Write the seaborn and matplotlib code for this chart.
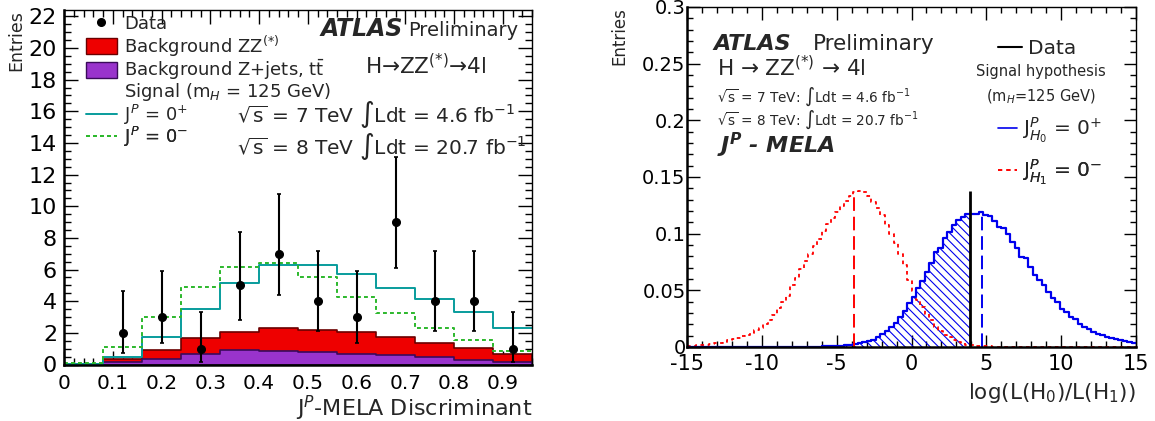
import numpy as np
import pandas as pd
import matplotlib
matplotlib.use("Agg")
import matplotlib.pyplot as plt
from matplotlib.lines import Line2D
from matplotlib.patches import Patch
from matplotlib.ticker import MultipleLocator, FuncFormatter
import seaborn as sns

# ---------------- Left panel: J^P-MELA discriminant ----------------
mela_edges = np.linspace(0.0, 0.96, 13)
bkg_zjets = [0.02, 0.16, 0.33, 0.66, 0.89, 0.83, 0.77, 0.68, 0.60, 0.45, 0.28, 0.16]
bkg_zz = [0.02, 0.17, 0.58, 1.00, 1.18, 1.45, 1.41, 1.37, 1.11, 0.93, 0.74, 0.50]
sig_0plus = [0.05, 0.49, 1.76, 3.51, 5.12, 6.26, 6.27, 5.75, 4.82, 4.17, 3.33, 2.30]
sig_0minus = [0.12, 1.13, 2.98, 4.91, 6.17, 6.44, 5.55, 4.28, 3.28, 2.32, 1.55, 0.87]
data_counts = [np.nan, 2, 3, 1, 5, 7, 4, 3, 9, 4, 4, 1]
data_low = [np.nan, 0.71, 1.37, 0.17, 2.84, 4.42, 2.09, 1.37, 6.08, 2.09, 2.09, 0.17]
data_high = [np.nan, 4.64, 5.92, 3.30, 8.38, 10.77, 7.16, 5.92, 13.12, 7.16, 7.16, 3.30]

# ---------------- Right panel: log-likelihood ratio ----------------
llr_edges = np.linspace(-15.0, 15.0, 101)
h0_0plus = [
    0.0, 0.0, 0.0, 0.0, 0.0, 0.0, 0.0, 0.0, 0.0, 0.0,
    0.0, 0.0, 0.0, 0.0, 0.0, 0.0, 0.0, 0.0, 0.0, 0.0,
    0.0, 0.0, 0.0, 0.0, 0.0, 0.0, 0.0, 0.0, 0.0003, 0.0004,
    0.0005, 0.0006, 0.0008, 0.0010, 0.0013, 0.0016, 0.0020, 0.0028, 0.0037, 0.0046,
    0.0055, 0.0066, 0.0084, 0.0111, 0.0143, 0.0177, 0.0215, 0.0266, 0.0318, 0.0390,
    0.0443, 0.0517, 0.0581, 0.0664, 0.0738, 0.0841, 0.0876, 0.0959, 0.1018, 0.1077,
    0.1121, 0.1150, 0.1174, 0.1174, 0.1174, 0.1189, 0.1165, 0.1159, 0.1112, 0.1056,
    0.1047, 0.0994, 0.0929, 0.0870, 0.0797, 0.0782, 0.0708, 0.0634, 0.0590, 0.0546,
    0.0487, 0.0428, 0.0398, 0.0339, 0.0310, 0.0266, 0.0245, 0.0207, 0.0177, 0.0157,
    0.0133, 0.0118, 0.0104, 0.0089, 0.0080, 0.0068, 0.0059, 0.0053, 0.0044, 0.0038,
]
h1_0minus = [
    0.0010, 0.0012, 0.0015, 0.0018, 0.0022, 0.0027, 0.0032, 0.0038, 0.0045, 0.0060,
    0.0072, 0.0082, 0.0094, 0.0108, 0.0125, 0.0148, 0.0172, 0.0200, 0.0238, 0.0285,
    0.0340, 0.0400, 0.0450, 0.0550, 0.0610, 0.0690, 0.0755, 0.0820, 0.0890, 0.0955,
    0.1020, 0.1085, 0.1140, 0.1190, 0.1245, 0.1290, 0.1335, 0.1365, 0.1380, 0.1370,
    0.1335, 0.1280, 0.1225, 0.1165, 0.1080, 0.1000, 0.0915, 0.0820, 0.0720, 0.0590,
    0.0490, 0.0415, 0.0355, 0.0295, 0.0240, 0.0180, 0.0140, 0.0108, 0.0085, 0.0065,
    0.0048, 0.0032, 0.0022, 0.0016, 0.0012, 0.0009, 0.0007, 0.0005, 0.0004, 0.0003,
    0.0003, 0.0002, 0.0002, 0.0002, 0.0001, 0.0001, 0.0001, 0.0001, 0.0001, 0.0001,
    0.0001, 0.0001, 0.0001, 0.0001, 0.0, 0.0, 0.0, 0.0, 0.0, 0.0,
    0.0, 0.0, 0.0, 0.0, 0.0, 0.0, 0.0, 0.0, 0.0, 0.0,
]
llr_observed = 3.9
llr_observed_height = 0.138
median_h0 = 4.7
median_h1 = -3.85

# ---------------- Style ----------------
sns.set_theme(style="ticks")
plt.rcParams["font.family"] = ["DejaVu Sans"]
plt.rcParams["mathtext.fontset"] = "dejavusans"
plt.rcParams["hatch.linewidth"] = 0.8

fig = plt.figure(figsize=(11.55, 4.21), dpi=100)
ax1 = fig.add_axes([64 / 1155, 1 - 364.5 / 421, (532 - 64) / 1155, (364.5 - 10) / 421])
ax2 = fig.add_axes([687 / 1155, 1 - 347 / 421, (1136 - 687) / 1155, (347 - 7) / 421])

fmt = FuncFormatter(lambda v, p: f"{v:g}")

def style_axes(ax, xmaj, xmin, ymaj, ymin, xfs, yfs, xpad, ypad, majlen, minlen):
    ax.xaxis.set_major_locator(MultipleLocator(xmaj))
    ax.xaxis.set_minor_locator(MultipleLocator(xmin))
    ax.yaxis.set_major_locator(MultipleLocator(ymaj))
    ax.yaxis.set_minor_locator(MultipleLocator(ymin))
    ax.xaxis.set_major_formatter(fmt)
    ax.yaxis.set_major_formatter(fmt)
    ax.tick_params(which="both", direction="in", top=True, right=True,
                   colors="black", width=1.0)
    ax.tick_params(which="major", length=majlen)
    ax.tick_params(which="minor", length=minlen)
    ax.tick_params(axis="x", labelsize=xfs, pad=xpad)
    ax.tick_params(axis="y", labelsize=yfs, pad=ypad)
    for s in ["left", "bottom"]:
        ax.spines[s].set_linewidth(1.8)
    for s in ["top", "right"]:
        ax.spines[s].set_linewidth(1.0)
    for s in ax.spines.values():
        s.set_color("black")
        s.set_visible(True)


def legend_entry(ax, handle, label, x, y, fontsize, hlen, hpad, hheight=0.7):
    leg = ax.legend([handle], [label], loc="center left", bbox_to_anchor=(x, y),
                    frameon=False, fontsize=fontsize, handlelength=hlen,
                    handletextpad=hpad, handleheight=hheight, borderpad=0,
                    borderaxespad=0)
    ax.add_artist(leg)
    return leg

# ---------------- Left panel drawing ----------------
mela_centers = 0.5 * (mela_edges[:-1] + mela_edges[1:])
mela_bins = mela_edges.tolist()
total_bkg = np.array(bkg_zz) + np.array(bkg_zjets)
left_df = pd.DataFrame({
    "x": mela_centers,
    "total": total_bkg,
    "zjets": bkg_zjets,
    "s0p": sig_0plus,
    "s0m": sig_0minus,
})

red = "#ee0000"
purple = "#9933cc"
teal = "#089c9c"
green = "#2cb82c"

sns.histplot(data=left_df, x="x", weights="total", bins=mela_bins, element="step",
             fill=True, color=red, facecolor=red, edgecolor="#6b0000", linewidth=1.2,
             alpha=1, ax=ax1)
sns.histplot(data=left_df, x="x", weights="zjets", bins=mela_bins, element="step",
             fill=True, color=purple, facecolor=purple, edgecolor="#3a0a5a", linewidth=1.2,
             alpha=1, ax=ax1)
sns.histplot(data=left_df, x="x", weights="s0p", bins=mela_bins, element="step",
             fill=False, color=teal, linewidth=1.4, ax=ax1)
sns.histplot(data=left_df, x="x", weights="s0m", bins=mela_bins, element="step",
             fill=False, color=green, linewidth=1.4, linestyle=(0, (2, 1.6)), ax=ax1)

dc = np.array(data_counts, dtype=float)
dlo = np.array(data_low, dtype=float)
dhi = np.array(data_high, dtype=float)
ax1.errorbar(mela_centers, dc, yerr=[dc - dlo, dhi - dc], fmt="o", color="black",
             ms=5.5, elinewidth=1.5, capsize=1.5, capthick=1.2, zorder=5)

ax1.set_xlim(0, 0.96)
ax1.set_ylim(0, 22.4)
style_axes(ax1, 0.1, 0.02, 2, 0.5, 14.5, 16, 7, 5, 10, 5)
ax1.set_xlabel(r"J$^{P}$-MELA Discriminant", loc="right", fontsize=16)
ax1.xaxis.set_label_coords(1.0, -0.083)
ax1.set_ylabel("Entries", loc="top", fontsize=12.5)
ax1.yaxis.set_label_coords(-0.083, 1.0)

left_entries = [
    (Line2D([], [], marker="o", ls="none", color="black", ms=5.5), "Data", 0.9605),
    (Patch(facecolor=red, edgecolor="#6b0000", linewidth=1.0),
     r"Background ZZ$^{(*)}$", 0.8984),
    (Patch(facecolor=purple, edgecolor="#3a0a5a", linewidth=1.0),
     r"Background Z+jets, t$\bar{\mathrm{t}}$", 0.8308),
    (Line2D([], [], color="none"), r"Signal (m$_{H}$ = 125 GeV)", 0.7685),
    (Line2D([], [], color=teal, lw=1.4), r"J$^{P}$ = 0$^{+}$", 0.7038),
    (Line2D([], [], color=green, lw=1.4, ls=(0, (2, 1.6))), r"J$^{P}$ = 0$^{-}$", 0.6417),
]
for h, lab, yy in left_entries:
    legend_entry(ax1, h, lab, 0.047, yy, 13, 1.7, 0.4, 0.95)

ax1.text(0.7244, 0.9267, "ATLAS", transform=ax1.transAxes, ha="right", va="baseline",
         fontsize=17, fontweight="bold", fontstyle="italic")
ax1.text(0.970, 0.9267, "Preliminary", transform=ax1.transAxes, ha="right", va="baseline",
         fontsize=14)
ax1.text(0.7724, 0.8195, r"H→ZZ$^{(*)}$→4l", transform=ax1.transAxes, ha="center",
         va="baseline", fontsize=15.5)
ax1.text(0.3697, 0.683, r"$\sqrt{\mathrm{s}}$ = 7 TeV $\int$Ldt = 4.6 fb$^{\mathregular{-1}}$",
         transform=ax1.transAxes, ha="left", va="baseline", fontsize=14.5)
ax1.text(0.3697, 0.5935, r"$\sqrt{\mathrm{s}}$ = 8 TeV $\int$Ldt = 20.7 fb$^{\mathregular{-1}}$",
         transform=ax1.transAxes, ha="left", va="baseline", fontsize=14.5)

# ---------------- Right panel drawing ----------------
llr_centers = 0.5 * (llr_edges[:-1] + llr_edges[1:])
llr_bins = llr_edges.tolist()
right_df = pd.DataFrame({"x": llr_centers, "h0": h0_0plus, "h1": h1_0minus})
below_obs = right_df[right_df["x"] < llr_observed]

blue = "#0000ee"
rred = "#ff0000"

sns.histplot(data=below_obs, x="x", weights="h0", bins=llr_bins, element="step",
             fill=True, color=blue, facecolor="none", edgecolor=blue, hatch="\\\\\\\\",
             linewidth=0, alpha=1, ax=ax2)
sns.histplot(data=right_df, x="x", weights="h1", bins=llr_bins, element="step",
             fill=False, color=rred, linewidth=1.3, linestyle=(0, (2, 2)), ax=ax2)
sns.histplot(data=right_df, x="x", weights="h0", bins=llr_bins, element="step",
             fill=False, color=blue, linewidth=1.6, ax=ax2)

k_h0 = np.searchsorted(llr_edges, median_h0) - 1
k_h1 = np.searchsorted(llr_edges, median_h1) - 1
ax2.vlines(median_h0, 0, h0_0plus[k_h0], colors=blue, linestyles=(0, (7, 3)), lw=1.4)
ax2.vlines(median_h1, 0, h1_0minus[k_h1], colors=rred, linestyles=(0, (7, 3)), lw=1.4)
ax2.vlines(llr_observed, 0, llr_observed_height, colors="black", lw=2.0, zorder=6)

ax2.set_xlim(-15, 15)
ax2.set_ylim(0, 0.3)
style_axes(ax2, 5, 1, 0.05, 0.01, 15, 14, 5, 1, 9, 4.5)
ax2.set_xlabel(r"log(L(H$_{0}$)/L(H$_{1}$))", loc="right", fontsize=15.5)
ax2.xaxis.set_label_coords(1.0, -0.1)
ax2.set_ylabel("Entries", loc="top", fontsize=12)
ax2.yaxis.set_label_coords(-0.131, 1.0)

ax2.text(0.058, 0.8735, "ATLAS", transform=ax2.transAxes, ha="left", va="baseline",
         fontsize=16, fontweight="bold", fontstyle="italic")
ax2.text(0.2806, 0.8735, "Preliminary", transform=ax2.transAxes, ha="left", va="baseline",
         fontsize=15.5)
ax2.text(0.067, 0.797, r"H → ZZ$^{(*)}$ → 4l", transform=ax2.transAxes, ha="left",
         va="baseline", fontsize=15.5)
ax2.text(0.067, 0.7215, r"$\sqrt{\mathrm{s}}$ = 7 TeV: $\int$Ldt = 4.6 fb$^{\mathregular{-1}}$",
         transform=ax2.transAxes, ha="left", va="baseline", fontsize=9.8)
ax2.text(0.067, 0.653, r"$\sqrt{\mathrm{s}}$ = 8 TeV: $\int$Ldt = 20.7 fb$^{\mathregular{-1}}$",
         transform=ax2.transAxes, ha="left", va="baseline", fontsize=9.8)
ax2.text(0.067, 0.5697, r"$\mathbfit{J}^{\mathbfit{P}}$ - MELA", transform=ax2.transAxes,
         ha="left", va="baseline", fontsize=16, fontweight="bold", fontstyle="italic")

ax2.text(0.788, 0.797, "Signal hypothesis", transform=ax2.transAxes, ha="center",
         va="baseline", fontsize=10.5)
ax2.text(0.788, 0.7215, r"(m$_{H}$=125 GeV)", transform=ax2.transAxes, ha="center",
         va="baseline", fontsize=10.5)

legend_entry(ax2, Line2D([], [], color="black", lw=1.5), "Data", 0.6927, 0.879,
             14.5, 1.2, 0.28)
legend_entry(ax2, Line2D([], [], color=blue, lw=1.2), r"J$^{P}_{H_{0}}$ = 0$^{+}$",
             0.6933, 0.638, 14.5, 0.95, 0.24)
legend_entry(ax2, Line2D([], [], color=rred, lw=1.2, ls=(0, (2.5, 2.5))),
             r"J$^{P}_{H_{1}}$ = 0$^{-}$", 0.6933, 0.5147, 14.5, 0.95, 0.24)

fig.savefig("out.png", dpi=100)
